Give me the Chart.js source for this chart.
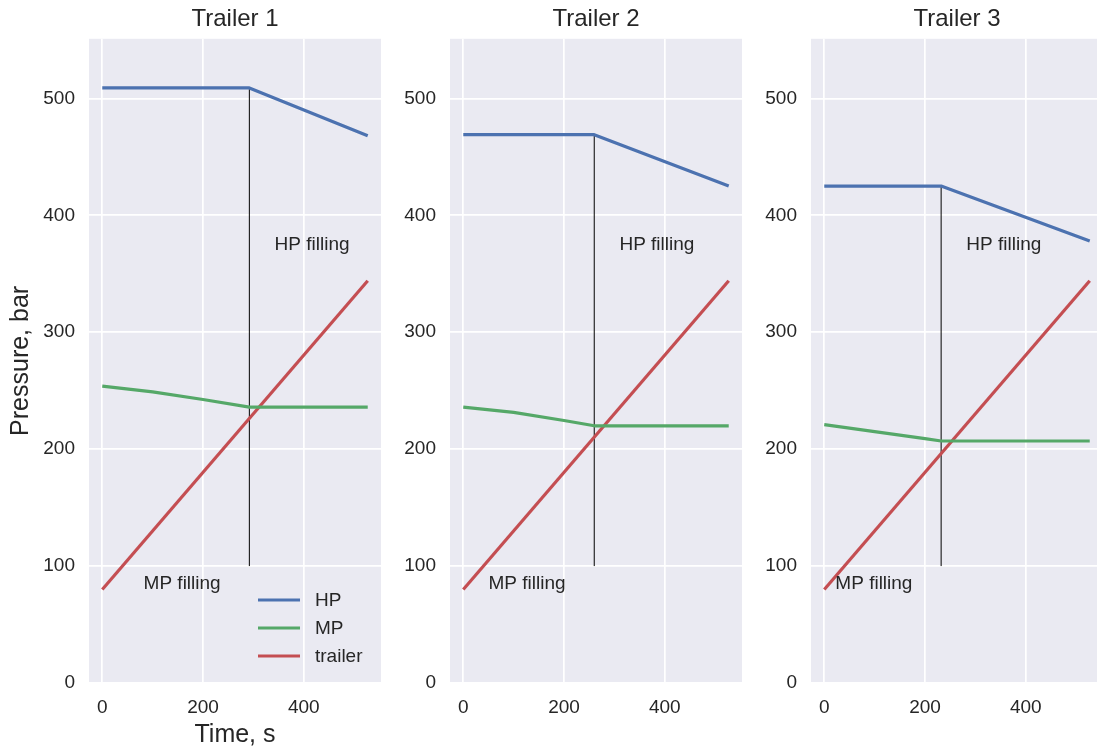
<!DOCTYPE html>
<html>
<head>
<meta charset="utf-8">
<script src="https://cdn.jsdelivr.net/npm/chart.js@4/dist/chart.umd.min.js"></script>
<style>
  html, body { margin: 0; padding: 0; background: #ffffff; overflow: hidden; }
  #wrap { position: relative; width: 1097px; height: 749px; }
  .panel { position: absolute; top: 0; }
</style>
</head>
<body>
<div id="wrap">
  <div class="panel" style="left:0px;width:381px;height:749px"><canvas id="c0"></canvas></div>
  <div class="panel" style="left:361px;width:381px;height:749px"><canvas id="c1"></canvas></div>
  <div class="panel" style="left:722px;width:381px;height:749px"><canvas id="c2"></canvas></div>
</div>
<script>
// Pressure histories of the three trailers during cascade filling
const trailerNames = ['Trailer 1', 'Trailer 2', 'Trailer 3'];
const switchTime = [292, 260, 232];      // s, MP -> HP switch-over
const switchLineFrom = 100;              // bar, lower end of the switch marker

const hpTime1 = [0, 292, 527];            const hpBar1 = [509, 509, 468];
const hpTime2 = [0, 260, 527];            const hpBar2 = [469, 469, 425];
const hpTime3 = [0, 232, 527];            const hpBar3 = [425, 425, 378];

const mpTime1 = [0, 100, 200, 292, 527];  const mpBar1 = [254, 249, 242.5, 236, 236];
const mpTime2 = [0, 100, 200, 260, 527];  const mpBar2 = [236, 231.5, 224.5, 220, 220];
const mpTime3 = [0, 100, 200, 232, 527];  const mpBar3 = [221, 215, 209, 207, 207];

const trailerTime = [0, 527];             const trailerBar = [80, 344];

const xTicks = [0, 200, 400];
const yTicks = [0, 100, 200, 300, 400, 500];

const hpTimes = [hpTime1, hpTime2, hpTime3];
const hpBars = [hpBar1, hpBar2, hpBar3];
const mpTimes = [mpTime1, mpTime2, mpTime3];
const mpBars = [mpBar1, mpBar2, mpBar3];

const FONT = "'Liberation Sans', Arial, sans-serif";
const TEXT = '#262626';
const COLORS = { HP: '#4C72B0', MP: '#55A868', trailer: '#C44E52' };

const pts = (xs, ys) => xs.map((x, i) => ({ x: x, y: ys[i] }));

// axes background
const bgPlugin = {
  id: 'axesBg',
  beforeDraw(chart) {
    const a = chart.chartArea, ctx = chart.ctx;
    ctx.save();
    ctx.fillStyle = '#EAEAF2';
    ctx.fillRect(a.left, a.top, a.right - a.left, a.bottom - a.top);
    ctx.restore();
  }
};

// "MP filling" / "HP filling" labels anchored in data coordinates
const phaseLabels = {
  id: 'phaseLabels',
  afterDatasetsDraw(chart, args, opts) {
    const ctx = chart.ctx, xs = chart.scales.x, ys = chart.scales.y;
    ctx.save();
    ctx.font = '19px ' + FONT;
    ctx.fillStyle = TEXT;
    ctx.textAlign = 'left';
    ctx.textBaseline = 'alphabetic';
    opts.items.forEach(it => {
      ctx.fillText(it.text, xs.getPixelForValue(it.x), ys.getPixelForValue(it.y));
    });
    ctx.restore();
  }
};

// legend inside the lower right corner of the first axes
const innerLegend = {
  id: 'innerLegend',
  afterDatasetsDraw(chart, args, opts) {
    if (!opts.show) return;
    const ctx = chart.ctx, a = chart.chartArea;
    const items = chart.data.datasets.filter(d => d.label);
    ctx.save();
    ctx.font = '19px ' + FONT;
    ctx.textBaseline = 'middle';
    ctx.textAlign = 'left';
    items.forEach((d, i) => {
      const y = a.bottom - 83 + i * 28;
      ctx.strokeStyle = d.borderColor;
      ctx.lineWidth = 3.2;
      ctx.beginPath();
      ctx.moveTo(a.right - 123, y);
      ctx.lineTo(a.right - 81, y);
      ctx.stroke();
      ctx.fillStyle = TEXT;
      ctx.fillText(d.label, a.right - 66, y + 1);
    });
    ctx.restore();
  }
};

function makePanel(i) {
  const t = switchTime[i];
  const hpAtSwitch = hpBars[i][1];
  const lineDs = (label, data, color) => ({
    label: label, data: data, borderColor: color, backgroundColor: color,
    borderWidth: 3.2, pointRadius: 0, tension: 0, fill: false,
    borderJoinStyle: 'round', borderCapStyle: 'butt'
  });
  const datasets = [
    lineDs('HP', pts(hpTimes[i], hpBars[i]), COLORS.HP),
    lineDs('MP', pts(mpTimes[i], mpBars[i]), COLORS.MP),
    lineDs('trailer', pts(trailerTime, trailerBar), COLORS.trailer),
    {
      label: '', data: [{ x: t, y: switchLineFrom }, { x: t, y: hpAtSwitch }],
      borderColor: '#000000', borderWidth: 1, pointRadius: 0, tension: 0, fill: false
    }
  ];

  new Chart(document.getElementById('c' + i), {
    type: 'line',
    data: { datasets: datasets },
    plugins: [bgPlugin, phaseLabels, innerLegend],
    options: {
      responsive: true,
      maintainAspectRatio: false,
      animation: false,
      layout: { padding: 0 },
      plugins: {
        legend: { display: false },
        tooltip: { enabled: false },
        title: {
          display: true,
          fullSize: false,
          text: trailerNames[i],
          color: TEXT,
          font: { family: FONT, size: 24, weight: 'normal' },
          padding: { top: 5, bottom: 5 }
        },
        phaseLabels: {
          items: [
            { text: 'HP filling', x: t + 50, y: 370 },
            { text: 'MP filling', x: t - 210, y: 80 }
          ]
        },
        innerLegend: { show: i === 0 }
      },
      scales: {
        x: {
          type: 'linear',
          min: -26.35,
          max: 553.35,
          afterBuildTicks: s => { s.ticks = xTicks.map(v => ({ value: v })); },
          afterFit: s => { s.height = 66; },
          border: { display: false },
          grid: { color: '#ffffff', lineWidth: 1.7, drawTicks: false },
          ticks: {
            color: TEXT, padding: 13,
            font: { family: FONT, size: 19 },
            maxRotation: 0
          },
          title: {
            display: i === 0, text: 'Time, s', color: TEXT,
            font: { family: FONT, size: 25, lineHeight: 1.1 },
            padding: { top: 0, bottom: 0 }
          }
        },
        y: {
          type: 'linear',
          min: 0,
          max: 551,
          afterBuildTicks: s => { s.ticks = yTicks.map(v => ({ value: v })); },
          afterFit: s => { s.width = 89; },
          border: { display: false },
          grid: { color: '#ffffff', lineWidth: 1.7, drawTicks: false },
          ticks: {
            color: TEXT, padding: 14,
            font: { family: FONT, size: 19 }
          },
          title: {
            display: i === 0, text: 'Pressure, bar', color: TEXT,
            font: { family: FONT, size: 25 },
            padding: { top: 6, bottom: 0 }
          }
        }
      }
    }
  });
}

[0, 1, 2].forEach(makePanel);
</script>
</body>
</html>
